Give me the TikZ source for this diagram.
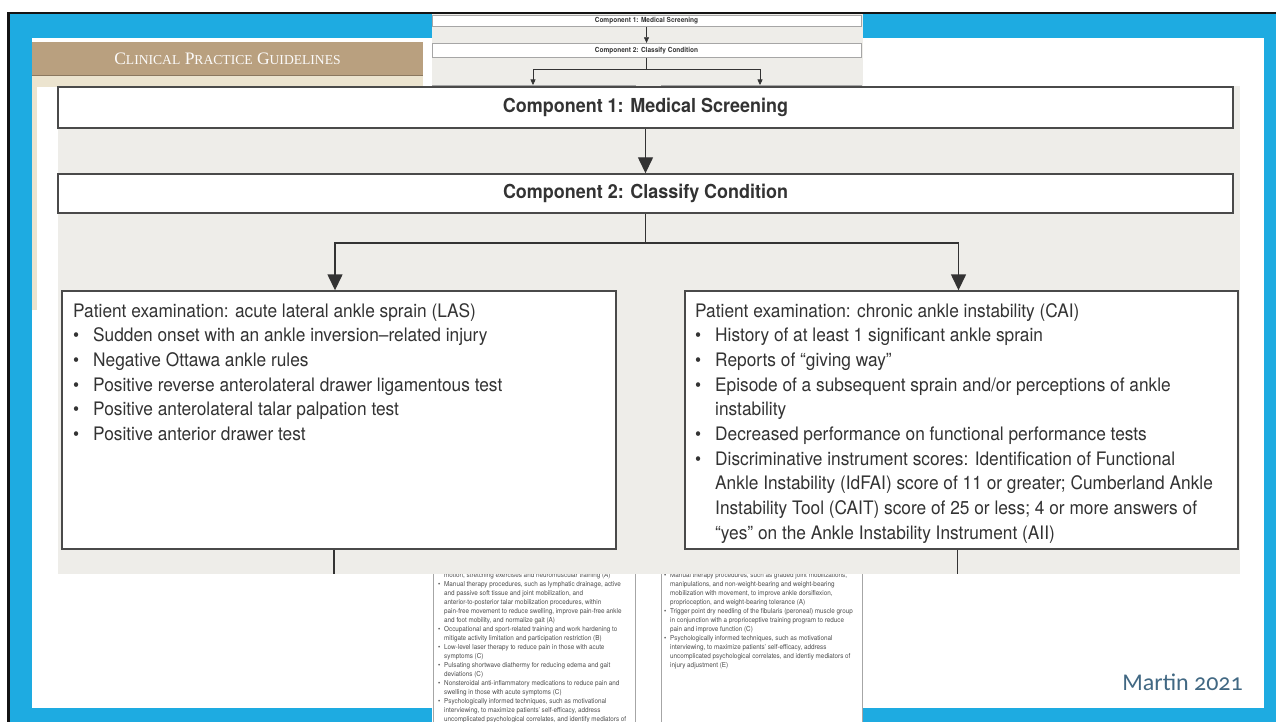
\documentclass[tikz,border=0pt]{standalone}
\usepackage{fontspec}
\setmainfont{TeX Gyre Heros}[FakeStretch=0.93]
\newfontfamily\cpgfont{Liberation Serif}
\newfontfamily\citefont{Carlito}[Numbers=OldStyle]
\usetikzlibrary{arrows.meta,positioning,calc}
\definecolor{slideblue}{HTML}{1EABE1}
\definecolor{frameblack}{HTML}{141414}
\definecolor{shotgray}{HTML}{EEEDE9}
\definecolor{boxline}{HTML}{4A4A4A}
\definecolor{inkgray}{HTML}{333333}
\definecolor{cpgtan}{HTML}{B9A07F}
\definecolor{cpgcream}{HTML}{ECE4CF}
\definecolor{citeblue}{HTML}{416883}
\newcommand{\bitem}[1][20pt]{\makebox[#1][l]{\textbullet}}
\newcommand{\bcont}[1][20pt]{\hspace*{#1}}
\newcommand{\cpgcap}[2]{{\fontsize{17.5}{20}\selectfont #1}{\fontsize{13.6}{20}\selectfont #2}}

\tikzset{
 compbox/.style={draw=boxline,line width=1.4pt,fill=white,inner sep=0pt,
  font=\bfseries\fontsize{19.3}{22}\selectfont,text=inkgray},
 listbox/.style={draw=boxline,line width=1.4pt,fill=white,inner sep=0pt},
 listtext/.style={anchor=north west,inner sep=0pt,align=left,
  font=\fontsize{18.6}{24.7}\selectfont,text=inkgray},
 flow/.style={draw=inkgray,line width=1.4pt},
 flowarr/.style={flow,-{Triangle[width=15pt,length=16pt]}},
 smallbox/.style={draw=gray!70,line width=0.8pt,fill=white,inner sep=0pt,
  font=\bfseries\fontsize{7}{8}\selectfont,text=inkgray},
 smallflow/.style={draw=inkgray,line width=0.6pt},
 smallarr/.style={smallflow,-{Triangle[width=5pt,length=5.5pt]}},
 smalltext/.style={anchor=north west,inner sep=0pt,align=left,
  font=\fontsize{6.8}{9}\selectfont,text=black!70},
 cpghead/.style={inner sep=0pt,text=white!96!cpgtan,
  font=\cpgfont\fontsize{17.5}{20}\selectfont},
 cite/.style={anchor=base east,inner sep=0pt,text=citeblue,
  font=\citefont\fontsize{24}{28}\selectfont},
}

\begin{document}
\begin{tikzpicture}[x=1pt,y=-1pt]
\useasboundingbox (0,0) rectangle (1276,722);
% slide frame
\fill[white] (0,0) rectangle (1276,722);
\fill[frameblack] (7,12) rectangle (1276,722);
\fill[slideblue] (10,14) rectangle (1276,722);
\fill[white] (32,38) rectangle (1264,708);

% guideline page behind
\fill[cpgcream] (32,42) rectangle (423,310);
\fill[white] (37,87) rectangle (423,310);
\fill[cpgtan] (32,42) rectangle (423,75);
\draw[cpgtan!75!black,line width=0.7pt] (32,75) -- (423,75);
\node[cpghead] (cpg) at (227.5,59) {\cpgcap{C}{LINICAL} \cpgcap{P}{RACTICE} \cpgcap{G}{UIDELINES}};

% small screenshot, top part
\fill[shotgray] (432,14) rectangle (863,87);
\node[smallbox,minimum width=429pt,minimum height=11.5pt] (sc1) at (646.5,20.75) {Component 1: Medical Screening};
\node[smallbox,minimum width=429pt,minimum height=14.5pt] (sc2) at (646.5,50.5) {Component 2: Classify Condition};
\coordinate (ssplit) at (646.5,69);
\coordinate (slas) at (533,85);
\coordinate (scai) at (760,85);
\draw[smallarr] (sc1) -- (sc2);
\draw[smallflow] (sc2) -- (ssplit);
\draw[smallarr] (ssplit) -| (slas);
\draw[smallarr] (ssplit) -| (scai);
\draw[gray!70,line width=0.8pt] (432,85.5) -- (635.5,85.5) (661,85.5) -- (862,85.5);

% small screenshot, bottom part
\fill[white] (432,560) rectangle (863,722);
\draw[gray!70,line width=0.9pt] (433.5,560) -- (433.5,722) (635.5,560) -- (635.5,722)
 (661,560) -- (661,722) (862,560) -- (862,722);
\node[smalltext] (ltreat) at (438,572) {%
\bcont[6pt]motion, stretching exercises and neuromuscular training (A)\\
\bitem[6pt]Manual therapy procedures, such as lymphatic drainage, active\\
\bcont[6pt]and passive soft tissue and joint mobilization, and\\
\bcont[6pt]anterior-to-posterior talar mobilization procedures, within\\
\bcont[6pt]pain-free movement to reduce swelling, improve pain-free ankle\\
\bcont[6pt]and foot mobility, and normalize gait (A)\\
\bitem[6pt]Occupational and sport-related training and work hardening to\\
\bcont[6pt]mitigate activity limitation and participation restriction (B)\\
\bitem[6pt]Low-level laser therapy to reduce pain in those with acute\\
\bcont[6pt]symptoms (C)\\
\bitem[6pt]Pulsating shortwave diathermy for reducing edema and gait\\
\bcont[6pt]deviations (C)\\
\bitem[6pt]Nonsteroidal anti-inflammatory medications to reduce pain and\\
\bcont[6pt]swelling in those with acute symptoms (C)\\
\bitem[6pt]Psychologically informed techniques, such as motivational\\
\bcont[6pt]interviewing, to maximize patients' self-efficacy, address\\
\bcont[6pt]uncomplicated psychological correlates, and identify mediators of};
\node[smalltext] (rtreat) at (664,572) {%
\bitem[6pt]Manual therapy procedures, such as graded joint mobilizations,\\
\bcont[6pt]manipulations, and non-weight-bearing and weight-bearing\\
\bcont[6pt]mobilization with movement, to improve ankle dorsiflexion,\\
\bcont[6pt]proprioception, and weight-bearing tolerance (A)\\
\bitem[6pt]Trigger point dry needling of the fibularis (peroneal) muscle group\\
\bcont[6pt]in conjunction with a proprioceptive training program to reduce\\
\bcont[6pt]pain and improve function (C)\\
\bitem[6pt]Psychologically informed techniques, such as motivational\\
\bcont[6pt]interviewing, to maximize patients' self-efficacy, address\\
\bcont[6pt]uncomplicated psychological correlates, and identiy mediators of\\
\bcont[6pt]injury adjustment (E)};

% big screenshot
\fill[shotgray] (58,86) rectangle (1240,574);
\node[compbox,minimum width=1175pt,minimum height=41pt] (c1) at (645.5,107.5) {Component 1: Medical Screening};
\node[compbox,minimum width=1175pt,minimum height=39pt] (c2) at (645.5,193.5) {Component 2: Classify Condition};
\node[listbox,minimum width=554pt,minimum height=258pt] (las) at (339,420) {};
\node[listbox,minimum width=553pt,minimum height=258pt] (cai) at (961.5,420) {};
\coordinate (split) at (645.5,243);
\coordinate (shotend) at (0,574);
\draw[flowarr] (c1) -- (c2);
\draw[flow] (c2) -- (split);
\draw[flowarr] (split) -| ([xshift=-4pt]las.north);
\draw[flowarr] (split) -| ([xshift=-3pt]cai.north);
\draw[flow] ([xshift=-5pt]las.south) -- ([xshift=-5pt]las.south |- shotend);
\draw[flow] ([xshift=-4pt]cai.south) -- ([xshift=-4pt]cai.south |- shotend);
\node[listtext] (lastext) at (73,303) {%
Patient examination: acute lateral ankle sprain (LAS)\\
\bitem Sudden onset with an ankle inversion–related injury\\
\bitem Negative Ottawa ankle rules\\
\bitem Positive reverse anterolateral drawer ligamentous test\\
\bitem Positive anterolateral talar palpation test\\
\bitem Positive anterior drawer test};
\node[listtext] (caitext) at (695,303) {%
Patient examination: chronic ankle instability (CAI)\\
\bitem History of at least 1 significant ankle sprain\\
\bitem Reports of “giving way”\\
\bitem Episode of a subsequent sprain and/or perceptions of ankle\\
\bcont instability\\
\bitem Decreased performance on functional performance tests\\
\bitem Discriminative instrument scores: Identification of Functional\\
\bcont Ankle Instability (IdFAI) score of 11 or greater; Cumberland Ankle\\
\bcont Instability Tool (CAIT) score of 25 or less; 4 or more answers of\\
\bcont “yes” on the Ankle Instability Instrument (AII)};

% citation
\node[cite] (src) at (1243,690) {Martin 2021};
\end{tikzpicture}
\end{document}
